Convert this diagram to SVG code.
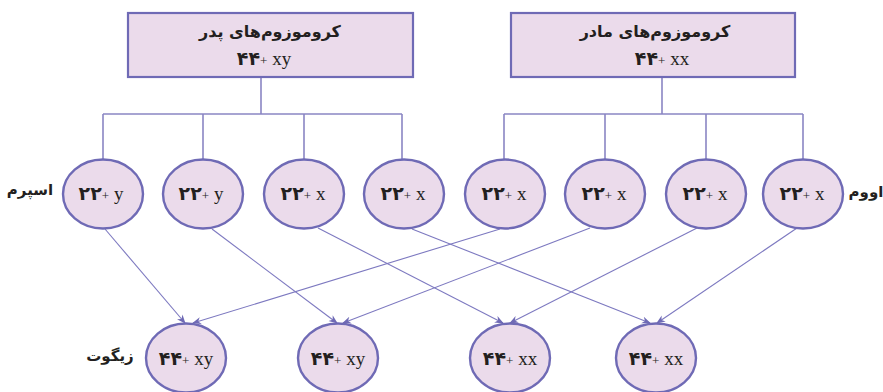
<svg xmlns="http://www.w3.org/2000/svg" width="883" height="392" viewBox="0 0 883 392">
<style>
.box{fill:#ebdbeb;stroke:#6f6ab5;stroke-width:2.2}
.node{fill:#ebdbeb;stroke:#6f6ab5;stroke-width:2.4}
.tree{fill:none;stroke:#8a86c4;stroke-width:1.6}
.arr{fill:none;stroke:#7d79c0;stroke-width:1.1;marker-end:url(#ah)}
.fa{font-family:"DejaVu Sans",sans-serif;font-weight:bold;fill:#231f20}
.num{font-family:"DejaVu Sans",sans-serif;font-weight:bold;fill:#231f20;text-anchor:middle}
.lat{font-family:"Liberation Serif",serif;font-weight:normal}
</style>
<defs>
<marker id="ah" viewBox="0 0 10 10" refX="9" refY="5" markerWidth="9" markerHeight="9" markerUnits="userSpaceOnUse" orient="auto">
<path d="M0,1 L10,5 L0,9 L3,5 Z" fill="#6f6ab5"/>
</marker>
</defs>
<g id="connectors">
<path class="tree" d="M261,77 V114 M103,114 H402 M103,114 V160 M203,114 V160 M304,114 V160 M402,114 V160"/>
<path class="tree" d="M662,77 V114 M504,114 H803 M504,114 V160 M605,114 V160 M706,114 V160 M803,114 V160"/>
<line class="arr" x1="105" y1="229" x2="185" y2="323"/>
<line class="arr" x1="212" y1="229" x2="337" y2="323"/>
<line class="arr" x1="318" y1="228" x2="503" y2="323"/>
<line class="arr" x1="412" y1="229" x2="650" y2="323"/>
<line class="arr" x1="500" y1="229" x2="193" y2="323"/>
<line class="arr" x1="590" y1="228" x2="343" y2="323"/>
<line class="arr" x1="697" y1="228" x2="510" y2="323"/>
<line class="arr" x1="797" y1="228" x2="657" y2="323"/>
</g>
<g id="father">
<rect class="box" x="128" y="13" width="285" height="64"/>
<text class="fa" x="270" y="37" font-size="16" text-anchor="middle">کروموزوم‌های پدر</text>
<text class="num" x="264" y="65" font-size="19">۴۴<tspan class="lat" font-size="13">+</tspan><tspan class="lat" font-size="19"> xy</tspan></text>
</g>
<g id="mother">
<rect class="box" x="511" y="13" width="284" height="64"/>
<text class="fa" x="655" y="37" font-size="16" text-anchor="middle">کروموزوم‌های مادر</text>
<text class="num" x="662" y="65" font-size="19">۴۴<tspan class="lat" font-size="13">+</tspan><tspan class="lat" font-size="19"> xx</tspan></text>
</g>
<g id="s1"><ellipse class="node" cx="103" cy="194" rx="40" ry="34.5"/><text class="num" x="101" y="200" font-size="19">۲۲<tspan class="lat" font-size="13">+</tspan><tspan class="lat" font-size="19"> y</tspan></text></g>
<g id="s2"><ellipse class="node" cx="203" cy="194" rx="40" ry="34.5"/><text class="num" x="201" y="200" font-size="19">۲۲<tspan class="lat" font-size="13">+</tspan><tspan class="lat" font-size="19"> y</tspan></text></g>
<g id="s3"><ellipse class="node" cx="304" cy="194" rx="40" ry="34.5"/><text class="num" x="303" y="200" font-size="19">۲۲<tspan class="lat" font-size="13">+</tspan><tspan class="lat" font-size="19"> x</tspan></text></g>
<g id="s4"><ellipse class="node" cx="404" cy="194" rx="40" ry="34.5"/><text class="num" x="403" y="200" font-size="19">۲۲<tspan class="lat" font-size="13">+</tspan><tspan class="lat" font-size="19"> x</tspan></text></g>
<g id="o1"><ellipse class="node" cx="505" cy="194" rx="40" ry="34.5"/><text class="num" x="504" y="200" font-size="19">۲۲<tspan class="lat" font-size="13">+</tspan><tspan class="lat" font-size="19"> x</tspan></text></g>
<g id="o2"><ellipse class="node" cx="605" cy="194" rx="40" ry="34.5"/><text class="num" x="604" y="200" font-size="19">۲۲<tspan class="lat" font-size="13">+</tspan><tspan class="lat" font-size="19"> x</tspan></text></g>
<g id="o3"><ellipse class="node" cx="706" cy="194" rx="40" ry="34.5"/><text class="num" x="705" y="200" font-size="19">۲۲<tspan class="lat" font-size="13">+</tspan><tspan class="lat" font-size="19"> x</tspan></text></g>
<g id="o4"><ellipse class="node" cx="803" cy="194" rx="40" ry="34.5"/><text class="num" x="802" y="200" font-size="19">۲۲<tspan class="lat" font-size="13">+</tspan><tspan class="lat" font-size="19"> x</tspan></text></g>
<g id="z1"><ellipse class="node" cx="186" cy="358" rx="40" ry="34.5"/><text class="num" x="186" y="365" font-size="19">۴۴<tspan class="lat" font-size="13">+</tspan><tspan class="lat" font-size="19"> xy</tspan></text></g>
<g id="z2"><ellipse class="node" cx="338" cy="358" rx="40" ry="34.5"/><text class="num" x="338" y="365" font-size="19">۴۴<tspan class="lat" font-size="13">+</tspan><tspan class="lat" font-size="19"> xy</tspan></text></g>
<g id="z3"><ellipse class="node" cx="510" cy="358" rx="40" ry="34.5"/><text class="num" x="510" y="365" font-size="19">۴۴<tspan class="lat" font-size="13">+</tspan><tspan class="lat" font-size="19"> xx</tspan></text></g>
<g id="z4"><ellipse class="node" cx="656" cy="358" rx="40" ry="34.5"/><text class="num" x="656" y="365" font-size="19">۴۴<tspan class="lat" font-size="13">+</tspan><tspan class="lat" font-size="19"> xx</tspan></text></g>
<g id="labels">
<text class="fa" x="30" y="195" font-size="15" text-anchor="middle">اسپرم</text>
<text class="fa" x="866" y="197" font-size="15" text-anchor="middle">اووم</text>
<text class="fa" x="110" y="361" font-size="15" text-anchor="middle">زیگوت</text>
</g>
</svg>
